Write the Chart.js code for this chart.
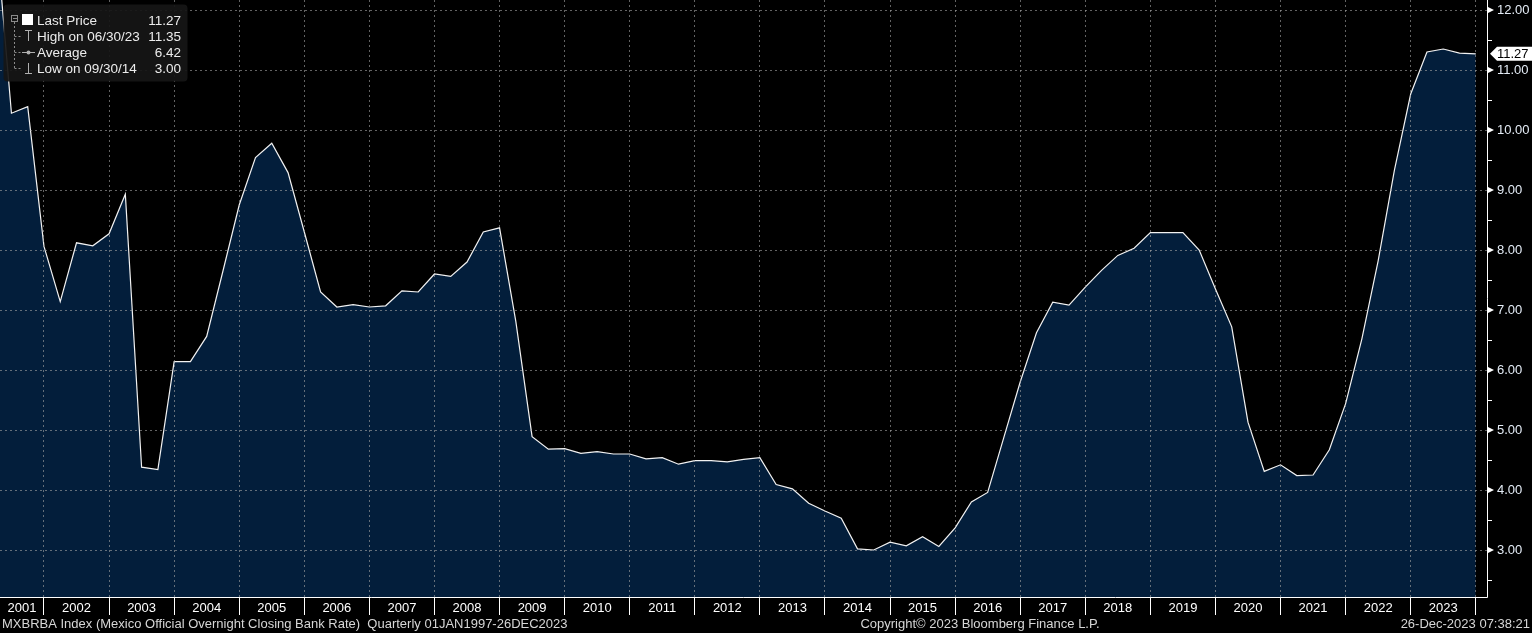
<!DOCTYPE html>
<html>
<head>
<meta charset="utf-8">
<script src="https://cdn.jsdelivr.net/npm/chart.js@4.4.0/dist/chart.umd.min.js"></script>
<style>
  html, body { margin: 0; padding: 0; background: #000; }
  canvas { display: block; }
</style>
</head>
<body>
<canvas id="chart" width="1532" height="633"></canvas>
<script>
// year labels on the time axis
const years = ['2001','2002','2003','2004','2005','2006','2007','2008','2009','2010','2011','2012',
  '2013','2014','2015','2016','2017','2018','2019','2020','2021','2022','2023']

// quarterly closing bank rate, Q1 2001 .. Q4 2023 (quarter ends)
const rates = [
  13.45, 10.28, 10.39, 8.06,
  7.14, 8.12, 8.07, 8.27,
  8.93, 4.38, 4.34, 6.14,
  6.14, 6.56, 7.65, 8.75,
  9.54, 9.78, 9.29, 8.30,
  7.30, 7.05, 7.09, 7.05,
  7.07, 7.32, 7.30, 7.60,
  7.56, 7.80, 8.30, 8.37,
  6.81, 4.89, 4.68, 4.69,
  4.61, 4.64, 4.60, 4.60,
  4.52, 4.54, 4.43, 4.49,
  4.49, 4.47, 4.51, 4.54,
  4.09, 4.02, 3.78, 3.65,
  3.53, 3.02, 3.00, 3.13,
  3.07, 3.22, 3.06, 3.37,
  3.80, 3.96, 4.88, 5.80,
  6.62, 7.13, 7.08, 7.38,
  7.66, 7.91, 8.03, 8.29,
  8.29, 8.29, 8.00, 7.35,
  6.72, 5.13, 4.31, 4.42,
  4.24, 4.25, 4.67, 5.44,
  6.52, 7.82, 9.33, 10.60,
  11.30, 11.35, 11.28, 11.27
]

const yTicks = [3, 4, 5, 6, 7, 8, 9, 10, 11, 12]
const lastPrice = 11.27

const legendLabels = ['Last Price', 'High on 06/30/23', 'Average', 'Low on 09/30/14']
const legendValues = ['11.27', '11.35', '6.42', '3.00']

const footerLeft = 'MXBRBA Index (Mexico Official Overnight Closing Bank Rate)  Quarterly 01JAN1997-26DEC2023'
const footerMid = 'Copyright\u00A9 2023 Bloomberg Finance L.P.'
const footerRight = '26-Dec-2023 07:38:21'

const FONT = '"Liberation Sans", Arial, sans-serif'
const gridColor = 'rgba(165,165,165,0.6)'

const points = rates.map((v, i) => ({ x: i + 1, y: v }))

const isMajor = v => Math.abs(v - Math.round(v)) < 1e-6

const bbgPlugin = {
  id: 'bbg',
  afterDraw(chart) {
    const { ctx, chartArea: a, scales: { y } } = chart
    ctx.save()

    // axis lines
    ctx.strokeStyle = '#fff'
    ctx.lineWidth = 1
    ctx.beginPath()
    ctx.moveTo(0, a.bottom + 0.5)
    ctx.lineTo(a.right + 0.5, a.bottom + 0.5)
    ctx.lineTo(a.right + 0.5, 0)
    ctx.stroke()

    // arrow markers on major ticks
    ctx.fillStyle = '#fff'
    yTicks.forEach(v => {
      const py = y.getPixelForValue(v)
      ctx.beginPath()
      ctx.moveTo(a.right, py - 3.5)
      ctx.lineTo(a.right + 7, py)
      ctx.lineTo(a.right, py + 3.5)
      ctx.closePath()
      ctx.fill()
    })

    // last price tag
    const ly = y.getPixelForValue(lastPrice)
    ctx.beginPath()
    ctx.moveTo(a.right + 3, ly)
    ctx.lineTo(a.right + 10, ly - 7)
    ctx.lineTo(chart.width, ly - 7)
    ctx.lineTo(chart.width, ly + 7)
    ctx.lineTo(a.right + 10, ly + 7)
    ctx.closePath()
    ctx.fill()
    ctx.fillStyle = '#000'
    ctx.font = '13px ' + FONT
    ctx.textBaseline = 'middle'
    ctx.textAlign = 'left'
    ctx.fillText(lastPrice.toFixed(2), a.right + 10, ly + 1)

    // legend box
    ctx.fillStyle = 'rgba(22,22,22,0.93)'
    ctx.beginPath()
    ctx.roundRect(3.5, 4.5, 184, 77, 4)
    ctx.fill()

    const rowY = [20, 36, 52, 68]
    ctx.strokeStyle = '#8a8a8a'
    ctx.lineWidth = 1
    // collapse box
    ctx.strokeRect(11.5, 15.5, 6, 6)
    ctx.beginPath(); ctx.moveTo(13, 18.5); ctx.lineTo(17, 18.5); ctx.stroke()
    // dashed tree
    ctx.setLineDash([2, 2])
    ctx.beginPath()
    ctx.moveTo(14.5, 22); ctx.lineTo(14.5, rowY[3] + 0.5)
    rowY.slice(1).forEach(ry => { ctx.moveTo(14.5, ry + 0.5); ctx.lineTo(21, ry + 0.5) })
    ctx.stroke()
    ctx.setLineDash([])
    // series square
    ctx.fillStyle = '#fff'
    ctx.fillRect(22, 14, 11, 11)
    // high / average / low glyphs
    ctx.strokeStyle = '#b0b0b0'
    ctx.beginPath()
    ctx.moveTo(25, 30.5); ctx.lineTo(32, 30.5); ctx.moveTo(28.5, 30.5); ctx.lineTo(28.5, 41)
    ctx.moveTo(22, 52.5); ctx.lineTo(35, 52.5)
    ctx.moveTo(28.5, 63); ctx.lineTo(28.5, 73.5); ctx.moveTo(25, 73.5); ctx.lineTo(32, 73.5)
    ctx.stroke()
    ctx.beginPath(); ctx.arc(28.5, 52.5, 2, 0, Math.PI * 2); ctx.fillStyle = '#b0b0b0'; ctx.fill()

    ctx.fillStyle = '#ececec'
    ctx.font = '13.5px ' + FONT
    legendLabels.forEach((t, i) => {
      ctx.textAlign = 'left'
      ctx.fillText(t, 37, rowY[i] + 1)
      ctx.textAlign = 'right'
      ctx.fillText(legendValues[i], 181, rowY[i] + 1)
    })

    // footer
    ctx.fillStyle = '#d6d6d6'
    ctx.font = '13px ' + FONT
    const fy = chart.height - 9
    ctx.textAlign = 'left'
    ctx.fillText(footerLeft, 2, fy)
    ctx.textAlign = 'center'
    ctx.fillText(footerMid, 980, fy)
    ctx.textAlign = 'right'
    ctx.fillText(footerRight, chart.width - 2, fy)

    ctx.restore()
  }
}

Chart.defaults.font.family = FONT
Chart.defaults.font.size = 13
Chart.defaults.color = '#fff'

const myChart = new Chart(document.getElementById('chart'), {
  type: 'line',
  data: {
    datasets: [{
      label: 'Last Price',
      data: points,
      borderColor: '#f2f2f2',
      borderWidth: 1.2,
      backgroundColor: '#031e3b',
      fill: 'start',
      tension: 0,
      pointRadius: 0
    }]
  },
  options: {
    responsive: false,
    animation: false,
    events: [],
    layout: { padding: { left: 0, right: 0, top: 0, bottom: 18 } },
    plugins: { legend: { display: false }, tooltip: { enabled: false } },
    scales: {
      x: {
        type: 'linear',
        bounds: 'data',
        min: 1.297,
        max: 92.69,
        afterBuildTicks: scale => {
          const t = []
          years.forEach((yr, i) => {
            const s = i * 4, e = s + 4
            if (s >= scale.min) t.push({ value: s })
            t.push({ value: (Math.max(s, scale.min) + Math.min(e, scale.max)) / 2, yr })
          })
          t.push({ value: years.length * 4 })
          scale.ticks = t
        },
        afterFit: scale => {
          scale.height = 18
          scale.paddingLeft = 0
          scale.paddingRight = 0
        },
        ticks: {
          autoSkip: false,
          maxRotation: 0,
          padding: -14,
          color: '#fff',
          callback: (v, i, ticks) => ticks[i].yr || ''
        },
        grid: {
          z: 1,
          color: c => c.tick && c.tick.yr ? 'transparent' : gridColor,
          tickColor: c => c.tick && c.tick.yr ? 'transparent' : '#fff',
          tickLength: 18,
          tickBorderDash: [],
          borderDash: [2, 3]
        },
        border: { display: false, dash: [2, 3] }
      },
      y: {
        type: 'linear',
        position: 'right',
        bounds: 'data',
        min: 2.2167,
        max: 12.1667,
        afterBuildTicks: scale => {
          const t = []
          for (let v = 2.5; v <= 12; v += 0.5) t.push({ value: v })
          scale.ticks = t
        },
        afterFit: scale => {
          scale.width = 45
          scale.paddingTop = 0
          scale.paddingBottom = 0
        },
        ticks: {
          autoSkip: false,
          padding: 5,
          color: '#e4ecf6',
          callback: v => isMajor(v) ? v.toFixed(2) : ''
        },
        grid: {
          z: 1,
          color: c => c.tick && isMajor(c.tick.value) ? gridColor : 'transparent',
          tickColor: '#fff',
          tickLength: 5,
          tickBorderDash: [],
          borderDash: [2, 3]
        },
        border: { display: false, dash: [2, 3] }
      }
    }
  },
  plugins: [bbgPlugin]
})
</script>
</body>
</html>
